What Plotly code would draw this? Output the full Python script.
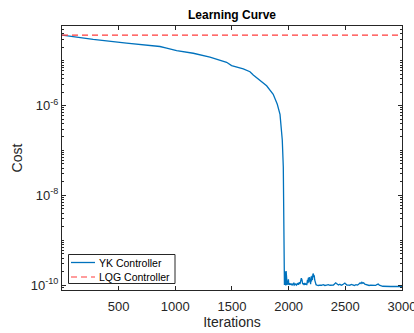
import plotly.graph_objects as go

# ---- data ----
yk_iter = [1, 276, 570, 865, 924, 1012, 1159, 1306, 1453, 1497, 1600, 1659, 1688, 1747, 1806, 1864, 1900,
           1924, 1932, 1944, 1953, 1956, 1960,
           1963, 1966, 1969, 1972, 1975, 1978, 1981, 1984, 1987, 1990, 1994, 1998, 2002, 2007, 2012,
           2018, 2024, 2030, 2038, 2046, 2054, 2062, 2070, 2078, 2086, 2094, 2100, 2106, 2112, 2118, 2124,
           2130, 2136, 2142, 2148, 2154, 2160, 2166, 2170, 2174, 2178, 2182, 2186, 2190, 2194, 2198, 2202,
           2206, 2210, 2214, 2218, 2222, 2226, 2230, 2236, 2242, 2250, 2262, 2275, 2290, 2305, 2320, 2335,
           2350, 2365, 2380, 2395, 2405, 2415, 2422, 2430, 2440, 2452, 2464, 2476, 2486, 2496, 2504, 2514,
           2528, 2540, 2552, 2566, 2580, 2594, 2608, 2620, 2630, 2638, 2646, 2654, 2662, 2672, 2684, 2696,
           2710, 2724, 2738, 2752, 2766, 2778, 2790, 2800, 2815, 2830, 2900, 3000]
yk_cost = [3.74e-5, 2.99e-5, 2.47e-5, 2.08e-5, 1.91e-5, 1.69e-5, 1.47e-5, 1.20e-5, 9.25e-6, 7.8e-6, 6.6e-6,
           5.7e-6, 4.8e-6, 3.59e-6, 2.77e-6, 1.79e-6, 1.07e-6,
           6.4e-7, 3.2e-7, 1.72e-7, 4.3e-8, 2.3e-9, 1.46e-10,
           1.0e-10, 2.0e-10, 1.2e-10, 1.7e-10, 0.98e-10, 2.05e-10, 1.3e-10, 1.5e-10, 1.0e-10,
           1.25e-10, 1.05e-10, 1.35e-10, 1.0e-10, 1.1e-10, 1.02e-10,
           1.08e-10, 1.0e-10, 1.05e-10, 1.0e-10, 1.12e-10, 1.0e-10, 1.06e-10, 1.0e-10, 1.1e-10, 1.02e-10,
           1.15e-10, 1.05e-10, 1.25e-10, 1.42e-10, 1.3e-10, 1.05e-10,
           1.1e-10, 1.0e-10, 1.12e-10, 1.02e-10, 1.08e-10, 1.0e-10, 1.3e-10, 1.1e-10, 1.45e-10, 1.15e-10,
           1.5e-10, 1.2e-10, 1.4e-10, 1.05e-10, 1.55e-10, 1.2e-10,
           1.6e-10, 1.3e-10, 1.72e-10, 1.8e-10, 1.5e-10, 1.65e-10, 1.3e-10, 1.1e-10, 1.02e-10, 1.0e-10,
           0.98e-10, 1.0e-10, 0.99e-10, 1.02e-10, 0.98e-10, 1.0e-10,
           1.02e-10, 0.99e-10, 1.01e-10, 1.0e-10, 1.06e-10, 1.12e-10, 1.08e-10, 1.02e-10, 1.0e-10,
           1.04e-10, 0.99e-10, 1.02e-10, 1.06e-10, 1.11e-10, 1.05e-10, 1.0e-10,
           1.0e-10, 0.99e-10, 1.03e-10, 1.0e-10, 0.98e-10, 1.02e-10, 1.0e-10, 1.05e-10, 1.12e-10, 1.08e-10,
           1.15e-10, 1.1e-10, 1.12e-10, 1.05e-10, 1.02e-10, 1.0e-10,
           0.98e-10, 1.0e-10, 0.99e-10, 1.01e-10, 0.98e-10, 1.02e-10, 1.05e-10, 1.0e-10, 0.97e-10, 0.94e-10,
           0.93e-10, 0.93e-10]
lqg_iter = [1, 3000]
lqg_cost = [3.74e-5, 3.74e-5]

series_names = ["YK Controller", "LQG Controller"]
x_ticks = [500, 1000, 1500, 2000, 2500, 3000]
y_ticks = [1e-10, 1e-8, 1e-6]
y_ticktext = ["10<sup>-10</sup>", "10<sup>-8</sup>", "10<sup>-6</sup>"]

minor_vals = [k * 10.0 ** n for n in range(-11, -3) for k in range(1, 10)]

FONT = "Liberation Sans, Arial, Helvetica, sans-serif"
AX = "#262626"
BLUE = "#0072BD"
RED = "#FF3B3B"

fig = go.Figure()
fig.add_trace(go.Scatter(x=yk_iter, y=yk_cost, mode="lines", name=series_names[0],
                         line=dict(color=BLUE, width=1.3), showlegend=False))
fig.add_trace(go.Scatter(x=lqg_iter, y=lqg_cost, mode="lines", name=series_names[1],
                         line=dict(color=RED, width=1.2, dash="6px,4px"), showlegend=False))

# manual legend (MATLAB style, compact)
W, H = 340.0, 264.0
def px(xp):
    return (xp - 62) / W
def py(yp):
    return (290 - yp) / H

shapes = [
    dict(type="rect", xref="paper", yref="paper", x0=px(68.5), x1=px(175), y0=py(283.5), y1=py(254.5),
         line=dict(color=AX, width=1), fillcolor="white", layer="above"),
    dict(type="line", xref="paper", yref="paper", x0=px(71), x1=px(95), y0=py(262.5), y1=py(262.5),
         line=dict(color=BLUE, width=1.3), layer="above"),
    dict(type="line", xref="paper", yref="paper", x0=px(71), x1=px(95), y0=py(277), y1=py(277),
         line=dict(color=RED, width=1.2, dash="6px,4px"), layer="above"),
]
annotations = [
    dict(xref="paper", yref="paper", x=px(97), y=py(262.5), text=series_names[0], showarrow=False,
         xanchor="left", yanchor="middle", font=dict(size=10.5, color="black", family=FONT)),
    dict(xref="paper", yref="paper", x=px(97), y=py(277), text=series_names[1], showarrow=False,
         xanchor="left", yanchor="middle", font=dict(size=10.5, color="black", family=FONT)),
]

fig.update_layout(
    width=414, height=333,
    margin=dict(l=62, r=12, t=26, b=43, autoexpand=False),
    paper_bgcolor="white", plot_bgcolor="white",
    font=dict(family=FONT, size=13, color=AX),
    title=dict(text="<b>Learning Curve</b>", x=0.5, xanchor="center", xref="paper",
               y=1 - 15 / 333, yanchor="middle", font=dict(size=12, color="black"),
               automargin=False),
    showlegend=False,
    shapes=shapes,
    annotations=annotations,
)
fig.update_xaxes(range=[1, 3000], tickvals=x_ticks, ticks="inside", ticklen=4, tickcolor=AX,
                 showline=True, linecolor=AX, linewidth=1, mirror="allticks",
                 showgrid=False, zeroline=False, ticklabeloverflow="allow", automargin=False,
                 ticklabelstandoff=4,
                 title=dict(text="Iterations", standoff=2, font=dict(size=14)),
                 tickfont=dict(size=13))
fig.update_yaxes(type="log", range=[-10.11, -4.225], tickvals=y_ticks, ticktext=y_ticktext,
                 ticks="inside", ticklen=4, tickcolor=AX,
                 minor=dict(tickvals=minor_vals, ticks="inside", ticklen=2, tickcolor=AX, showgrid=False),
                 showline=True, linecolor=AX, linewidth=1, mirror="allticks",
                 showgrid=False, zeroline=False, automargin=False,
                 title=dict(text="Cost", standoff=4, font=dict(size=14)),
                 tickfont=dict(size=13))

fig.write_html("out.html")
